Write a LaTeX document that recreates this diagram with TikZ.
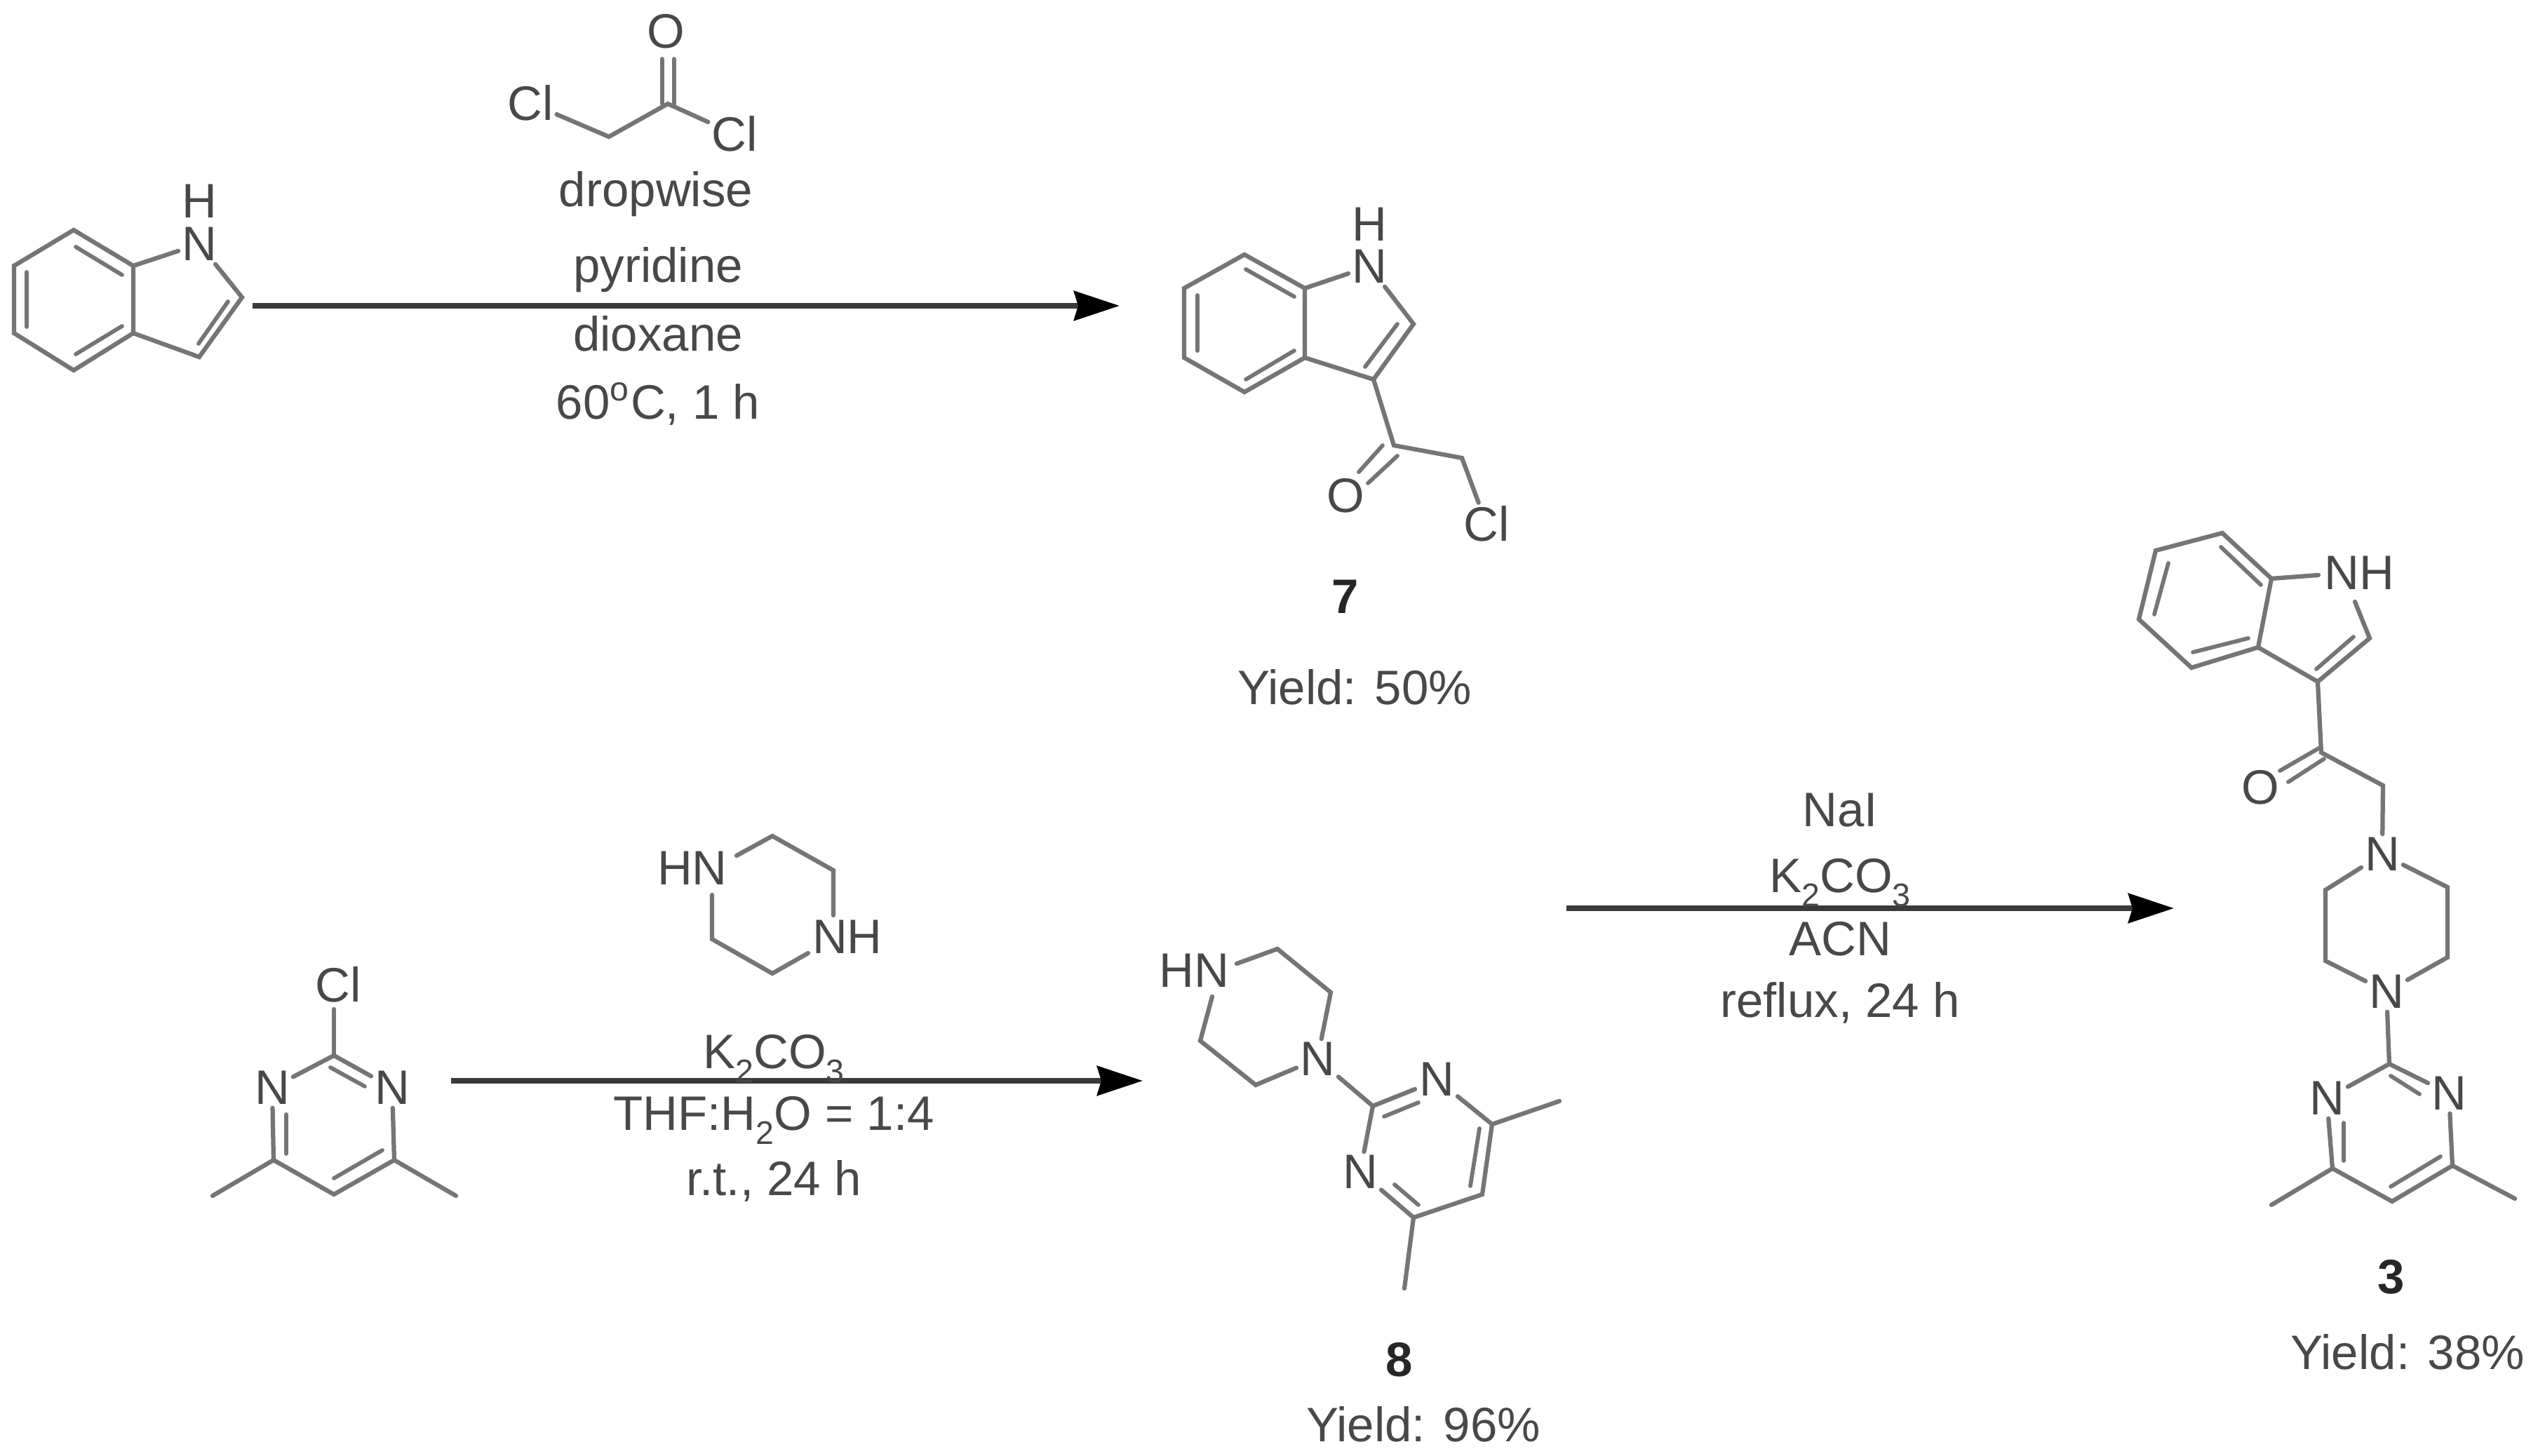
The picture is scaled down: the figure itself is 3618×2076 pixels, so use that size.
\documentclass[tikz,border=0pt]{standalone}
\usepackage{fontspec}
\setmainfont{Liberation Sans}
\usetikzlibrary{arrows.meta}
\newcommand{\subdig}[1]{\raisebox{-0.28em}{\fontsize{9.3}{9.3}\selectfont #1}}
\tikzset{
  bond/.style={draw=bondgray,line width=1.25pt,line cap=round,line join=miter},
  dblbond/.style={draw=bondgray,line width=1.15pt,line cap=round},
  atom/.style={text=txtgray,inner sep=0.8pt,font=\fontsize{13.8}{13.8}\selectfont},
  lab/.style={text=txtgray,inner sep=0pt,anchor=base,font=\fontsize{13.8}{13.8}\selectfont},
  cmpd/.style={text=black!85,inner sep=0pt,anchor=base,font=\fontsize{13.8}{13.8}\selectfont\bfseries},
  rxnarrow/.style={draw=arrowgray,line width=1.5pt,-{Stealth[length=13pt,width=8.4pt,inset=1.2pt,color=black,fill=black]}}
}
\definecolor{bondgray}{HTML}{757575}
\definecolor{txtgray}{HTML}{484848}
\definecolor{arrowgray}{HTML}{3A3A3A}
\begin{document}
\begin{tikzpicture}[x=0.2pt,y=-0.2pt]
\useasboundingbox (0,0) rectangle (3618,2076);
\fill[white] (0,0) rectangle (3618,2076);

% ---------- Indole (starting material)
\coordinate (a1) at (105,328);
\coordinate (a2) at (190,379);
\coordinate (a3) at (190,475);
\coordinate (a4) at (105,528);
\coordinate (a5) at (20,475);
\coordinate (a6) at (20,379);
\coordinate (a8) at (345,424);
\coordinate (a9) at (284,509);
\node[atom] (aN) at (284,348) {N};
\node[atom] (aH) at (284,287) {H};
\draw[bond] (a2)--(a1)--(a6)--(a5)--(a4)--(a3)--(a2);
\draw[bond] (a2)--(aN);
\draw[bond] (aN)--(a8)--(a9)--(a3);
\draw[dblbond] (108,352)--(174,392);
\draw[dblbond] (108,505)--(174,465);
\draw[dblbond] (38,388)--(38,466);
\draw[dblbond] (325,430)--(283,490);

% ---------- Chloroacetyl chloride
\coordinate (b1) at (952,148);
\coordinate (b2) at (868,195);
\coordinate (b1a) at (944,148);
\coordinate (b1b) at (961,148);
\coordinate (bOa) at (944,84);
\coordinate (bOb) at (961,84);
\node[atom] (bO) at (949,45) {O};
\node[atom] (bCl1) at (756,147) {Cl};
\node[atom] (bCl2) at (1047,191) {Cl};
\draw[bond] (bCl1)--(b2)--(b1)--(bCl2);
\draw[dblbond] (bOa)--(b1a);
\draw[dblbond] (bOb)--(b1b);

% ---------- Reaction 1
\coordinate (r1s) at (360,436);
\coordinate (r1e) at (1596,436);
\draw[rxnarrow] (r1s)--(r1e);
\node[lab] (t1a) at (935,295) {dropwise};
\node[lab] (t1b) at (938,403) {pyridine};
\node[lab] (t1c) at (938,501) {dioxane};
\node[lab] (t1d) at (938,598) {60\textsuperscript{o}C, 1 h};

% ---------- Compound 7
\coordinate (c1) at (1774,363);
\coordinate (c2) at (1860,411);
\coordinate (c3) at (1860,510);
\coordinate (c4) at (1774,559);
\coordinate (c5) at (1688,510);
\coordinate (c6) at (1688,411);
\coordinate (c8) at (2015,462);
\coordinate (c9) at (1958,541);
\coordinate (c10) at (1987,635);
\coordinate (c11) at (2084,653);
\node[atom] (cN) at (1952,380) {N};
\node[atom] (cH) at (1952,320) {H};
\node[atom] (cO) at (1918,707) {O};
\node[atom] (cCl) at (2119,747) {Cl};
\draw[bond] (c2)--(c1)--(c6)--(c5)--(c4)--(c3)--(c2);
\draw[bond] (c2)--(cN);
\draw[bond] (cN)--(c8)--(c9)--(c3);
\draw[bond] (c9)--(c10)--(c11)--(cCl);
\draw[dblbond] (1776,384)--(1845,423);
\draw[dblbond] (1776,541)--(1845,500);
\draw[dblbond] (1707,421)--(1707,500);
\draw[dblbond] (1992,462)--(1946,523);
\draw[dblbond] (1971,635)--(1937,673);
\draw[dblbond] (1992,650)--(1950,689);
\node[cmpd] (c7lab) at (1918,875) {7};
\node[lab] (c7y) at (1931,1005) {Yield: 50\%};

% ---------- Chloro-dimethylpyrimidine
\coordinate (d2) at (476,1505);
\coordinate (d4) at (390,1654);
\coordinate (d5) at (476,1703);
\coordinate (d6) at (562,1654);
\coordinate (dM1) at (303,1705);
\coordinate (dM2) at (650,1705);
\coordinate (dClb) at (476,1439);
\node[atom] (dCl) at (482,1404) {Cl};
\node[atom] (dN1) at (388,1551) {N};
\node[atom] (dN3) at (559,1551) {N};
\draw[bond] (dClb)--(d2);
\draw[bond] (dN1)--(d2)--(dN3);
\draw[bond] (dN1)--(d4)--(d5)--(d6)--(dN3);
\draw[bond] (dM1)--(d4);
\draw[bond] (d6)--(dM2);
\draw[dblbond] (471,1522)--(520,1549);
\draw[dblbond] (408,1589)--(408,1645);
\draw[dblbond] (476,1680)--(545,1640);

% ---------- Piperazine reagent
\coordinate (e1) at (1101,1192);
\coordinate (e2) at (1188,1241);
\coordinate (e3) at (1101,1388);
\coordinate (e4) at (1015,1339);
\coordinate (eNa) at (1050,1220);
\coordinate (eNb) at (1188,1305);
\coordinate (eNc) at (1152,1359);
\coordinate (eNd) at (1015,1276);
\node[atom] (eHN) at (987,1238) {HN};
\node[atom] (eNH) at (1208,1336) {NH};
\draw[bond] (eNa)--(e1)--(e2)--(eNb);
\draw[bond] (eNc)--(e3)--(e4)--(eNd);

% ---------- Reaction 2
\coordinate (r2s) at (643,1541);
\coordinate (r2e) at (1629,1541);
\draw[rxnarrow] (r2s)--(r2e);
\node[lab] (t2a) at (1103,1524) {K\subdig{2}CO\subdig{3}};
\node[lab] (t2b) at (1103,1612) {THF:H\subdig{2}O = 1:4};
\node[lab] (t2c) at (1103,1705) {r.t., 24 h};

% ---------- Compound 8
\coordinate (f1) at (1821,1353);
\coordinate (f2) at (1897,1415);
\coordinate (f3) at (1790,1547);
\coordinate (f4) at (1711,1484);
\coordinate (fNa) at (1763,1374);
\coordinate (fNb) at (1728,1421);
\coordinate (f5) at (1957,1577);
\coordinate (f5b) at (2017,1553);
\coordinate (f6) at (2127,1603);
\coordinate (f7) at (2113,1703);
\coordinate (f8) at (2015,1736);
\coordinate (fM1) at (2223,1570);
\coordinate (fM2) at (2002,1837);
\node[atom] (fHN) at (1702,1384) {HN};
\node[atom] (fN) at (1878,1510) {N};
\node[atom] (fN3) at (2048,1539) {N};
\node[atom] (fN1) at (1939,1671) {N};
\draw[bond] (fNa)--(f1)--(f2)--(fN);
\draw[bond] (fN)--(f3)--(f4)--(fNb);
\draw[bond] (fN)--(f5);
\draw[bond] (f5)--(f5b);
\draw[bond] (f5)--(fN1);
\draw[bond] (fN3)--(f6)--(f7)--(f8)--(fN1);
\draw[bond] (f6)--(fM1);
\draw[bond] (f8)--(fM2);
\draw[dblbond] (1973,1592)--(2022,1572);
\draw[dblbond] (2109,1609)--(2096,1691);
\draw[dblbond] (1988,1689)--(2022,1718);
\node[cmpd] (f8lab) at (1995,1963) {8};
\node[lab] (f8y) at (2029,2055) {Yield: 96\%};

% ---------- Reaction 3
\coordinate (r3s) at (2233,1295);
\coordinate (r3e) at (3099,1295);
\draw[rxnarrow] (r3s)--(r3e);
\node[lab] (t3a) at (2623,1179) {NaI};
\node[lab] (t3b) at (2623,1273) {K\subdig{2}CO\subdig{3}};
\node[lab] (t3c) at (2623,1363) {ACN};
\node[lab] (t3d) at (2623,1451) {reflux, 24 h};

% ---------- Compound 3
\coordinate (g1) at (3168,760);
\coordinate (g2) at (3238,825);
\coordinate (g3) at (3219,923);
\coordinate (g4) at (3124,952);
\coordinate (g5) at (3049,883);
\coordinate (g6) at (3073,785);
\coordinate (g7) at (3305,820);
\coordinate (g7b) at (3357,858);
\coordinate (g8) at (3378,910);
\coordinate (g9) at (3304,972);
\coordinate (g10) at (3309,1073);
\coordinate (g11) at (3397,1120);
\coordinate (h1) at (3315,1269);
\coordinate (h2) at (3315,1370);
\coordinate (h3) at (3489,1265);
\coordinate (h4) at (3489,1365);
\coordinate (k2) at (3406,1517);
\coordinate (k4) at (3325,1666);
\coordinate (k5) at (3410,1713);
\coordinate (k6) at (3496,1662);
\coordinate (kM1) at (3238,1718);
\coordinate (kM2) at (3585,1709);
\node[atom] (gNH) at (3363,817) {NH};
\node[atom] (gO) at (3222,1123) {O};
\node[atom] (hNa) at (3396,1218) {N};
\node[atom] (hNb) at (3402,1414) {N};
\node[atom] (kN1) at (3317,1566) {N};
\node[atom] (kN3) at (3491,1559) {N};
\draw[bond] (g2)--(g1)--(g6)--(g5)--(g4)--(g3)--(g2);
\draw[bond] (g2)--(g7);
\draw[bond] (g7b)--(g8)--(g9)--(g3);
\draw[bond] (g9)--(g10)--(g11)--(hNa);
\draw[bond] (hNa)--(h1)--(h2)--(hNb);
\draw[bond] (hNa)--(h3)--(h4)--(hNb);
\draw[bond] (hNb)--(k2);
\draw[bond] (kN1)--(k2)--(kN3);
\draw[bond] (kN1)--(k4)--(k5)--(k6)--(kN3);
\draw[bond] (kM1)--(k4);
\draw[bond] (k6)--(kM2);
\draw[dblbond] (3091,803)--(3071,876);
\draw[dblbond] (3166,780)--(3223,834);
\draw[dblbond] (3126,930)--(3205,910);
\draw[dblbond] (3302,954)--(3355,908);
\draw[dblbond] (3307,1066)--(3250,1099);
\draw[dblbond] (3313,1082)--(3262,1115);
\draw[dblbond] (3408,1534)--(3449,1560);
\draw[dblbond] (3341,1601)--(3341,1655);
\draw[dblbond] (3408,1692)--(3479,1649);
\node[cmpd] (g3lab) at (3409,1845) {3};
\node[lab] (g3y) at (3432,1952) {Yield: 38\%};
\end{tikzpicture}
\end{document}
